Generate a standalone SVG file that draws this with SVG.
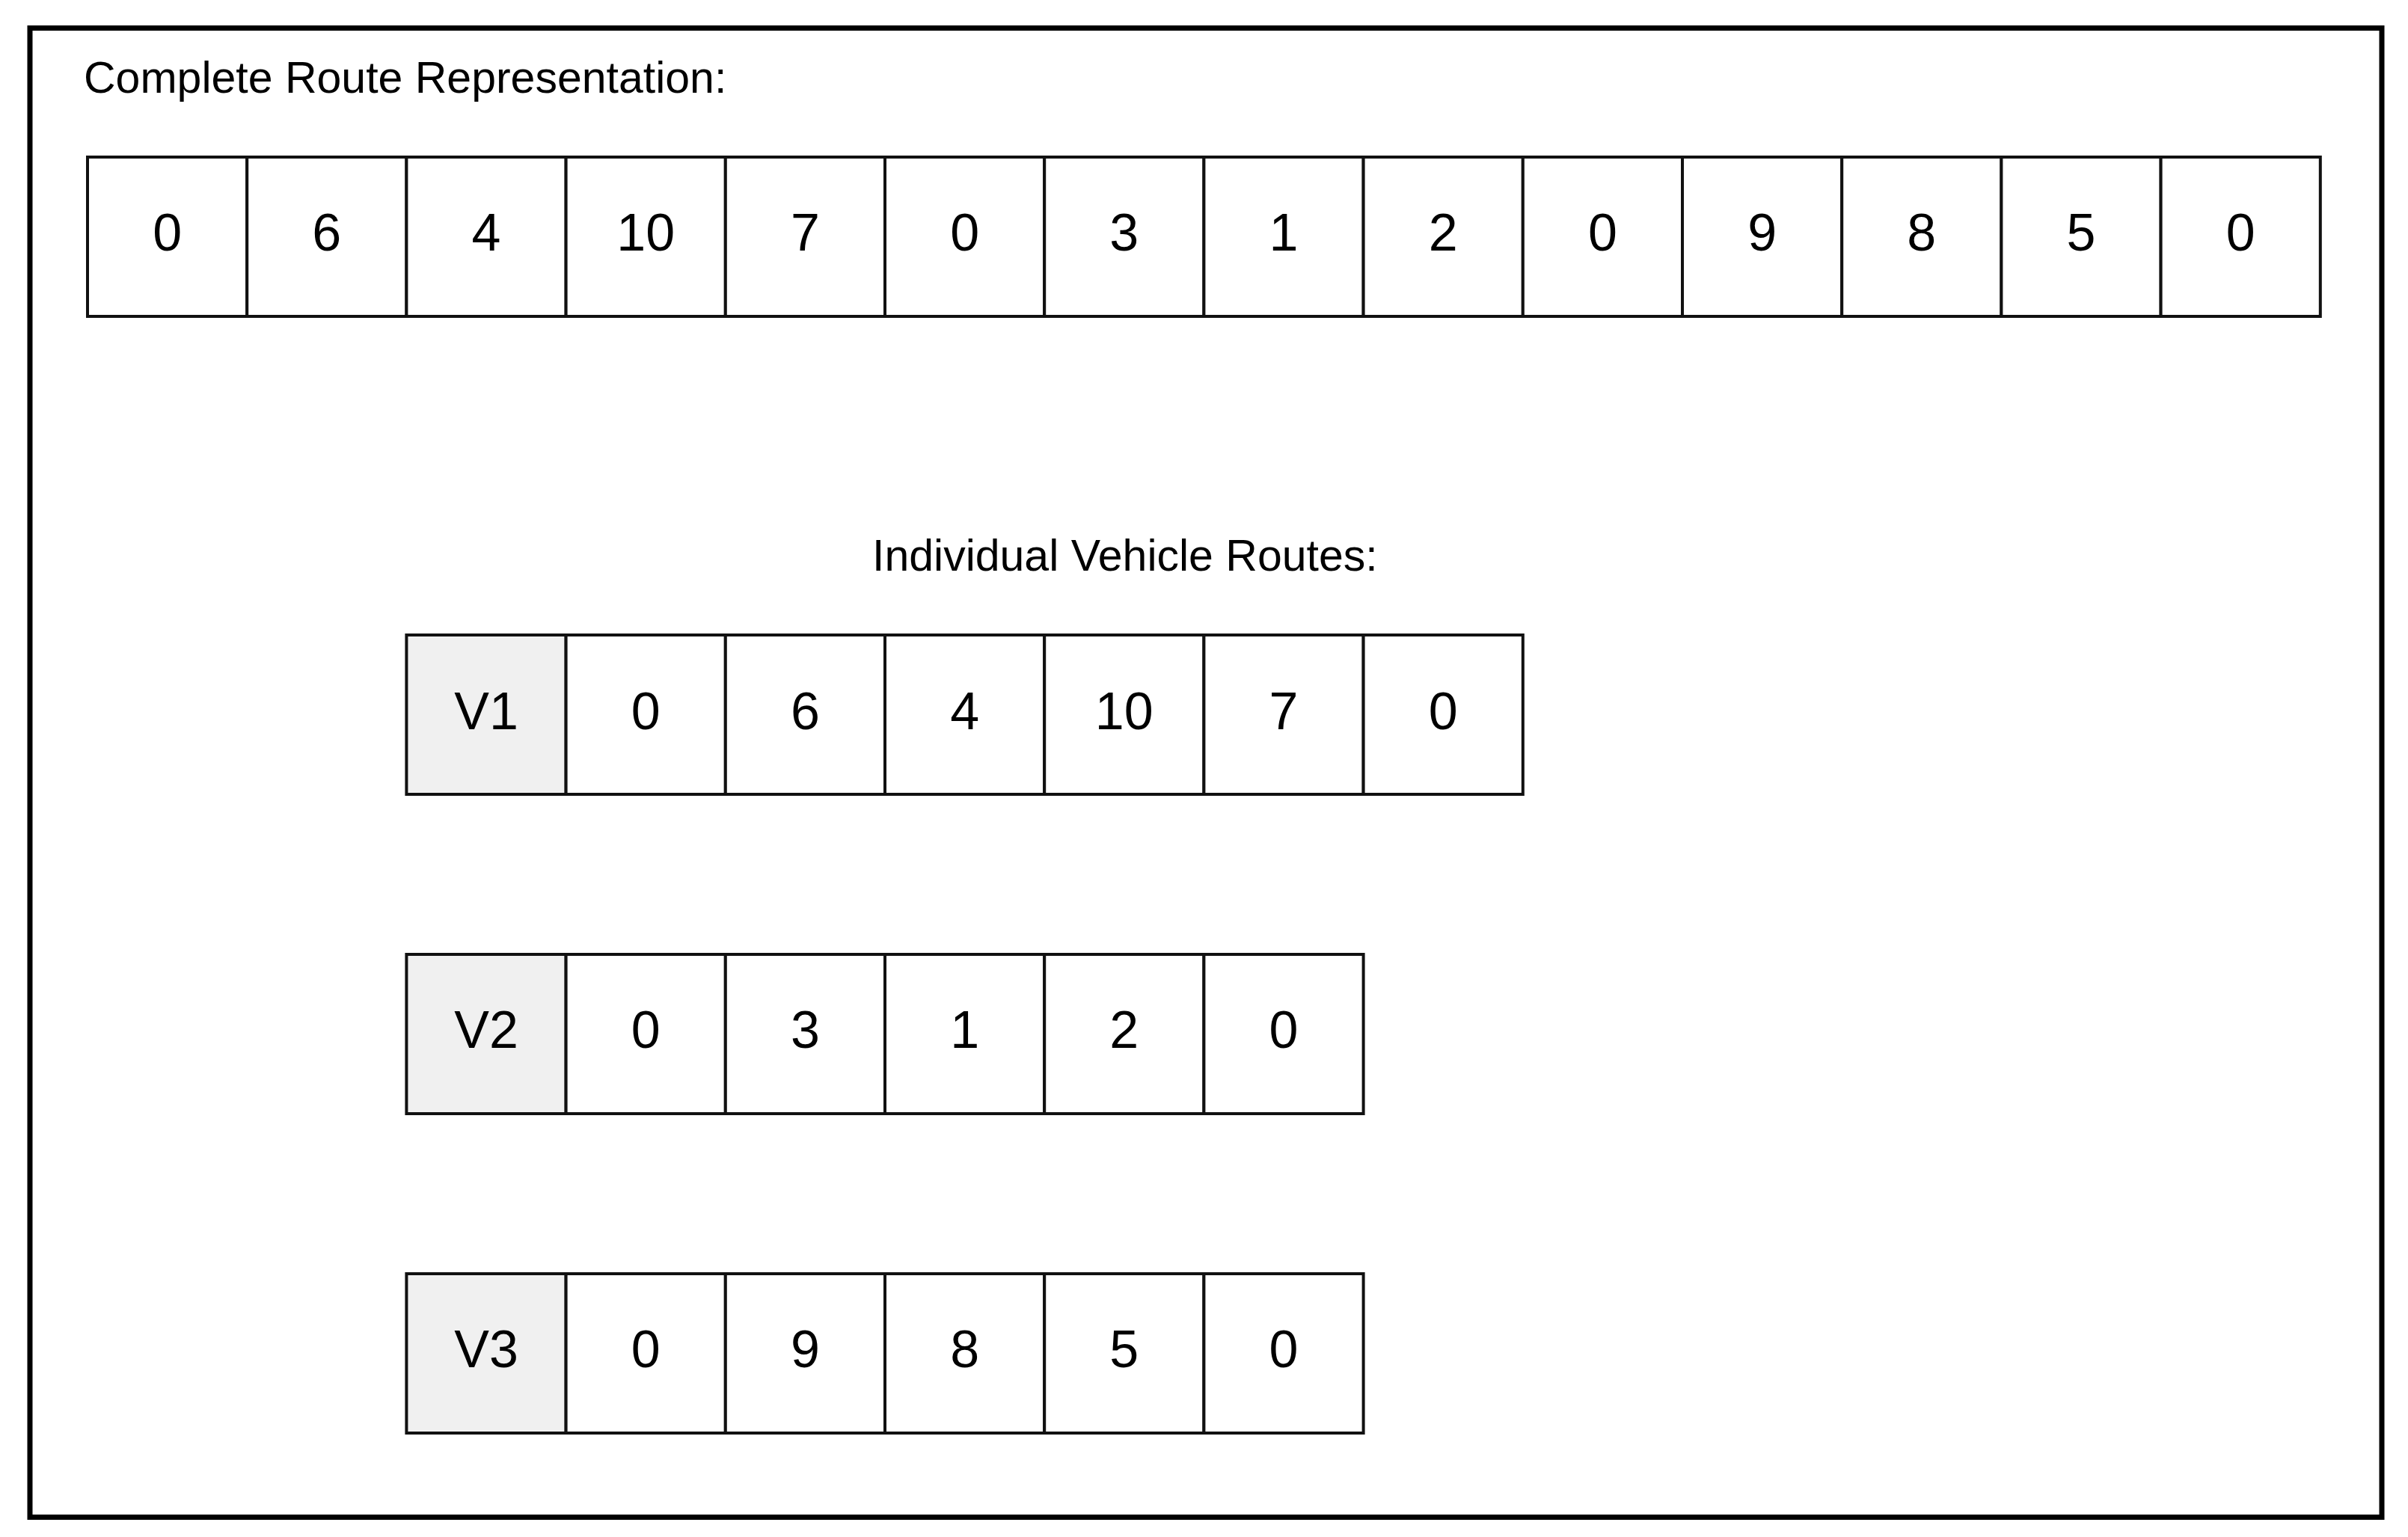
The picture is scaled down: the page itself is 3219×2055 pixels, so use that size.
<svg xmlns="http://www.w3.org/2000/svg" width="3219" height="2055" viewBox="0 0 3219 2055">
<style>
.frame{fill:#ffffff;stroke:#000000;stroke-width:7}
.cell{fill:#ffffff;stroke:#111111;stroke-width:4}
.vcell{fill:#f0f0f0;stroke:#111111;stroke-width:4}
.num{font-family:"Liberation Sans",Arial,sans-serif;font-size:70px;fill:#000000;text-anchor:middle}
.title{font-family:"Liberation Sans",Arial,sans-serif;font-size:59px;fill:#000000}
</style>
<rect x="0" y="0" width="3219" height="2055" fill="#ffffff"/>
<rect class="frame" x="40" y="37.5" width="3144" height="1991"/>
<text class="title" x="112" y="124">Complete Route Representation:</text>
<text class="title" x="1166" y="763">Individual Vehicle Routes:</text>

<g id="complete-route">
<g id="c0"><rect class="cell" x="117" y="210" width="213.2" height="213"/><text class="num" x="223.6" y="335">0</text></g>
<g id="c1"><rect class="cell" x="330.2" y="210" width="213.2" height="213"/><text class="num" x="436.8" y="335">6</text></g>
<g id="c2"><rect class="cell" x="543.4" y="210" width="213.2" height="213"/><text class="num" x="650" y="335">4</text></g>
<g id="c3"><rect class="cell" x="756.6" y="210" width="213.2" height="213"/><text class="num" x="863.2" y="335">10</text></g>
<g id="c4"><rect class="cell" x="969.8" y="210" width="213.2" height="213"/><text class="num" x="1076.4" y="335">7</text></g>
<g id="c5"><rect class="cell" x="1183" y="210" width="213.2" height="213"/><text class="num" x="1289.6" y="335">0</text></g>
<g id="c6"><rect class="cell" x="1396.2" y="210" width="213.2" height="213"/><text class="num" x="1502.8" y="335">3</text></g>
<g id="c7"><rect class="cell" x="1609.4" y="210" width="213.2" height="213"/><text class="num" x="1716" y="335">1</text></g>
<g id="c8"><rect class="cell" x="1822.6" y="210" width="213.2" height="213"/><text class="num" x="1929.2" y="335">2</text></g>
<g id="c9"><rect class="cell" x="2035.8" y="210" width="213.2" height="213"/><text class="num" x="2142.4" y="335">0</text></g>
<g id="c10"><rect class="cell" x="2249" y="210" width="213.2" height="213"/><text class="num" x="2355.6" y="335">9</text></g>
<g id="c11"><rect class="cell" x="2462.2" y="210" width="213.2" height="213"/><text class="num" x="2568.8" y="335">8</text></g>
<g id="c12"><rect class="cell" x="2675.4" y="210" width="213.2" height="213"/><text class="num" x="2782" y="335">5</text></g>
<g id="c13"><rect class="cell" x="2888.6" y="210" width="213.2" height="213"/><text class="num" x="2995.2" y="335">0</text></g>
</g>

<g id="v1-route">
<g id="v1-label"><rect class="vcell" x="543.4" y="849" width="213.2" height="213"/><text class="num" x="650" y="975">V1</text></g>
<g id="v1-0"><rect class="cell" x="756.6" y="849" width="213.2" height="213"/><text class="num" x="863.2" y="975">0</text></g>
<g id="v1-1"><rect class="cell" x="969.8" y="849" width="213.2" height="213"/><text class="num" x="1076.4" y="975">6</text></g>
<g id="v1-2"><rect class="cell" x="1183" y="849" width="213.2" height="213"/><text class="num" x="1289.6" y="975">4</text></g>
<g id="v1-3"><rect class="cell" x="1396.2" y="849" width="213.2" height="213"/><text class="num" x="1502.8" y="975">10</text></g>
<g id="v1-4"><rect class="cell" x="1609.4" y="849" width="213.2" height="213"/><text class="num" x="1716" y="975">7</text></g>
<g id="v1-5"><rect class="cell" x="1822.6" y="849" width="213.2" height="213"/><text class="num" x="1929.2" y="975">0</text></g>
</g>

<g id="v2-route">
<g id="v2-label"><rect class="vcell" x="543.4" y="1276" width="213.2" height="213"/><text class="num" x="650" y="1401">V2</text></g>
<g id="v2-0"><rect class="cell" x="756.6" y="1276" width="213.2" height="213"/><text class="num" x="863.2" y="1401">0</text></g>
<g id="v2-1"><rect class="cell" x="969.8" y="1276" width="213.2" height="213"/><text class="num" x="1076.4" y="1401">3</text></g>
<g id="v2-2"><rect class="cell" x="1183" y="1276" width="213.2" height="213"/><text class="num" x="1289.6" y="1401">1</text></g>
<g id="v2-3"><rect class="cell" x="1396.2" y="1276" width="213.2" height="213"/><text class="num" x="1502.8" y="1401">2</text></g>
<g id="v2-4"><rect class="cell" x="1609.4" y="1276" width="213.2" height="213"/><text class="num" x="1716" y="1401">0</text></g>
</g>

<g id="v3-route">
<g id="v3-label"><rect class="vcell" x="543.4" y="1703" width="213.2" height="213"/><text class="num" x="650" y="1828">V3</text></g>
<g id="v3-0"><rect class="cell" x="756.6" y="1703" width="213.2" height="213"/><text class="num" x="863.2" y="1828">0</text></g>
<g id="v3-1"><rect class="cell" x="969.8" y="1703" width="213.2" height="213"/><text class="num" x="1076.4" y="1828">9</text></g>
<g id="v3-2"><rect class="cell" x="1183" y="1703" width="213.2" height="213"/><text class="num" x="1289.6" y="1828">8</text></g>
<g id="v3-3"><rect class="cell" x="1396.2" y="1703" width="213.2" height="213"/><text class="num" x="1502.8" y="1828">5</text></g>
<g id="v3-4"><rect class="cell" x="1609.4" y="1703" width="213.2" height="213"/><text class="num" x="1716" y="1828">0</text></g>
</g>

<g id="connectors"></g>
</svg>
